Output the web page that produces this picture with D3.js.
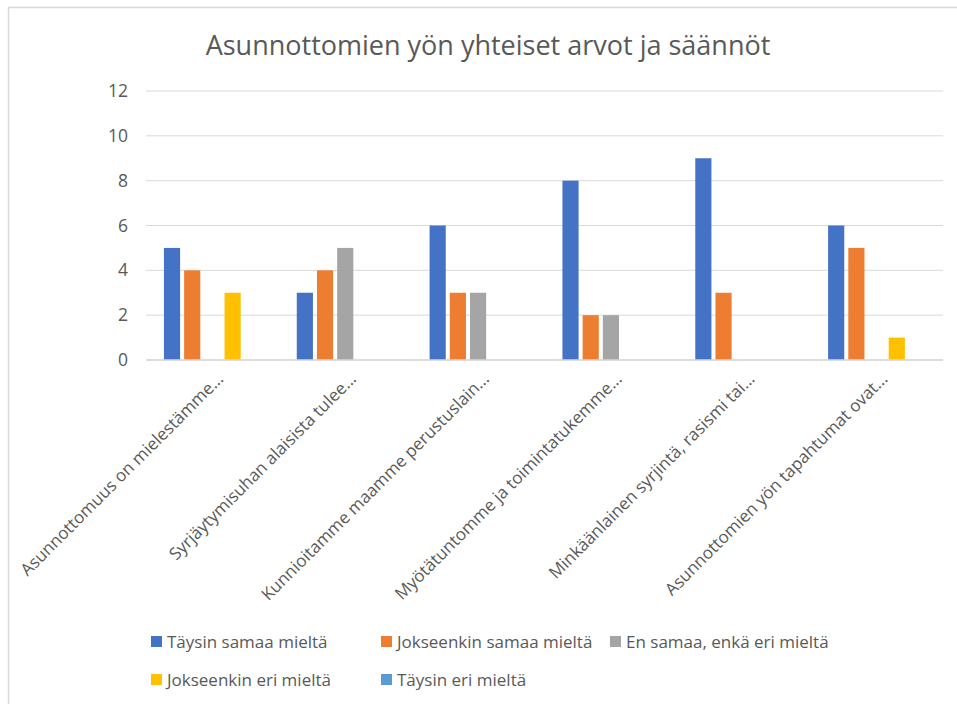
<!DOCTYPE html>
<html>
<head>
<meta charset="utf-8">
<script src="https://cdn.jsdelivr.net/npm/d3@7"></script>
<style>
  body { margin: 0; background: #fff; }
  svg { font-family: "Open Sans", "Noto Sans", sans-serif; }
</style>
</head>
<body>
<div id="chart"></div>
<script>
var title = 'Asunnottomien yön yhteiset arvot ja säännöt';

var categories = [
  'Asunnottomuus on mielestämme...',
  'Syrjäytymisuhan alaisista tulee...',
  'Kunnioitamme maamme perustuslain...',
  'Myötätuntomme ja toimintatukemme...',
  'Minkäänlainen syrjintä, rasismi tai...',
  'Asunnottomien yön tapahtumat ovat...'
];

var seriesNames = [
  'Täysin samaa mieltä',
  'Jokseenkin samaa mieltä',
  'En samaa, enkä eri mieltä',
  'Jokseenkin eri mieltä',
  'Täysin eri mieltä'
];

var seriesColors = ['#4472C4', '#ED7D31', '#A5A5A5', '#FFC000', '#5B9BD5'];

// one array per series, one value per category
var taysinSamaa     = [5, 3, 6, 8, 9, 6];
var jokseenkinSamaa = [4, 4, 3, 2, 3, 5];
var enSamaaEnkaEri  = [0, 5, 3, 2, 0, 0];
var jokseenkinEri   = [3, 0, 0, 0, 0, 1];
var taysinEri       = [0, 0, 0, 0, 0, 0];

var yTicks = [0, 2, 4, 6, 8, 10, 12];

var seriesValues = [taysinSamaa, jokseenkinSamaa, enSamaaEnkaEri, jokseenkinEri, taysinEri];

var width = 957, height = 704;

var svg = d3.select('#chart').append('svg')
    .attr('width', width)
    .attr('height', height);

// chart frame
svg.append('rect')
    .attr('x', 8.5).attr('y', 7.5)
    .attr('width', width + 10).attr('height', height + 10)
    .attr('fill', 'none')
    .attr('stroke', '#d9d9d9')
    .attr('stroke-width', 1.5);

svg.append('text')
    .attr('x', 488)
    .attr('y', 55)
    .attr('text-anchor', 'middle')
    .attr('font-size', 27)
    .attr('fill', '#595959')
    .text(title);

var plot = {left: 146, right: 943, top: 91, bottom: 360};

var y = d3.scaleLinear()
    .domain([0, 12])
    .range([plot.bottom, plot.top]);

var x0 = d3.scaleBand()
    .domain(categories)
    .range([plot.left, plot.right])
    .paddingInner(0.27)
    .paddingOuter(0.135);

var x1 = d3.scaleBand()
    .domain(seriesNames)
    .range([0, x0.bandwidth()])
    .paddingInner(0.2);

// gridlines
svg.append('g')
    .selectAll('line')
    .data(yTicks)
    .enter().append('line')
      .attr('x1', plot.left)
      .attr('x2', plot.right)
      .attr('y1', function(d) { return y(d); })
      .attr('y2', function(d) { return y(d); })
      .attr('stroke', '#d9d9d9')
      .attr('stroke-width', 1);

// y axis labels
var yAxis = svg.append('g')
    .attr('transform', 'translate(' + (plot.left - 8) + ',0)')
    .call(d3.axisLeft(y).tickValues(yTicks).tickSize(0).tickPadding(10));
yAxis.select('.domain').remove();
yAxis.selectAll('text')
    .attr('font-size', 17.5)
    .attr('font-family', '"Open Sans", sans-serif')
    .attr('fill', '#595959');

// bars
var groups = svg.append('g')
    .selectAll('g')
    .data(categories)
    .enter().append('g')
      .attr('transform', function(d) { return 'translate(' + x0(d) + ',0)'; });

groups.selectAll('rect')
    .data(function(d, i) {
      return seriesNames.map(function(name, s) {
        return {name: name, value: seriesValues[s][i], color: seriesColors[s]};
      });
    })
    .enter().append('rect')
      .attr('x', function(d) { return x1(d.name); })
      .attr('width', x1.bandwidth())
      .attr('y', function(d) { return y(d.value); })
      .attr('height', function(d) { return y(0) - y(d.value); })
      .attr('fill', function(d) { return d.color; });

// baseline
svg.append('line')
    .attr('x1', plot.left).attr('x2', plot.right)
    .attr('y1', y(0)).attr('y2', y(0))
    .attr('stroke', '#d9d9d9')
    .attr('stroke-width', 1.5);

// category labels, rotated
svg.append('g')
    .selectAll('text')
    .data(categories)
    .enter().append('text')
      .attr('transform', function(d) {
        return 'translate(' + (x0(d) + x0.bandwidth() / 2 + 12) + ',' + (plot.bottom + 20) + ') rotate(-45)';
      })
      .attr('text-anchor', 'end')
      .attr('font-size', 17)
      .attr('fill', '#595959')
      .text(function(d) { return d; });

// legend
var legendPos = [[151, 642], [381, 642], [610, 642], [151, 680], [381, 680]];

var legend = svg.append('g')
    .selectAll('g')
    .data(seriesNames)
    .enter().append('g')
      .attr('transform', function(d, i) { return 'translate(' + legendPos[i][0] + ',' + legendPos[i][1] + ')'; });

legend.append('rect')
    .attr('x', 0).attr('y', -6)
    .attr('width', 11).attr('height', 11)
    .attr('fill', function(d, i) { return seriesColors[i]; });

legend.append('text')
    .attr('x', 16)
    .attr('dy', '0.35em')
    .attr('font-size', 17)
    .attr('fill', '#595959')
    .text(function(d) { return d; });
</script>
</body>
</html>
